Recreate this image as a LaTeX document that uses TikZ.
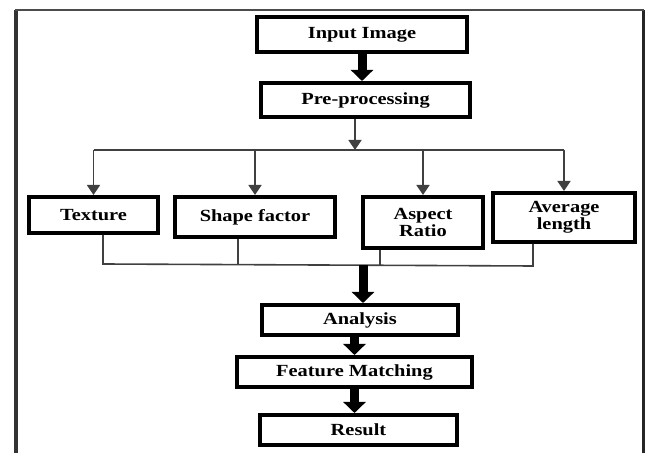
\documentclass[tikz,border=0pt]{standalone}
\usepackage{fontspec}
\setmainfont{Liberation Serif}[FakeStretch=1.2]
\usetikzlibrary{arrows.meta}

\begin{document}
\begin{tikzpicture}[x=0.5pt,y=-0.5pt,
	stage/.style={draw,line width=2pt,inner sep=0pt,align=center,font=\bfseries\fontsize{8.5}{8.5}\selectfont},
	wire/.style={line width=0.8pt,black!75},
	thin arrow/.style={wire,-{Triangle[width=6.5pt,length=5pt]}},
	fat arrow/.style={line width=4.5pt,-{Triangle[width=11pt,length=5.5pt]}}]
		\useasboundingbox(0,0) rectangle (647,453);
		
		% frame
		\draw[line width=1.8pt][black!80](16,470)--(16,10);
		\draw[line width=1.5pt][black!85](643,470)--(643,10);
		\draw[line width=1pt][black!70](15,10)--(644,10);
		
		\node[stage,minimum width=105pt,minimum height=17.5pt] (input) at (362,34.5) {Input Image};
		\node[stage,minimum width=104.5pt,minimum height=17pt] (pre) at (365.5,100) {Pre-processing};
		
		\node[stage,minimum width=64.5pt,minimum height=18pt] (texture) at (93.5,215) {Texture};
		\node[stage,minimum width=80pt,minimum height=20pt] (shape) at (255,217) {Shape factor};
		\node[stage,minimum width=60pt,minimum height=25.5pt] (aspect) at (423,222.5) {Aspect\\Ratio};
		\node[stage,minimum width=71pt,minimum height=24.5pt] (avg) at (564,217.5) {Average\\length};
		
		\node[stage,minimum width=98pt,minimum height=15pt] (analysis) at (360,320) {Analysis};
		\node[stage,minimum width=117.5pt,minimum height=15pt] (feature) at (354.5,372) {Feature Matching};
		\node[stage,minimum width=98.5pt,minimum height=15pt] (result) at (358.5,430) {Result};
		
		\coordinate (split) at (355,150);
		\coordinate (join) at (363,265);
		\coordinate (jt) at (103,264);
		\coordinate (js) at (238,264.5);
		\coordinate (ja) at (380,265.5);
		\coordinate (jv) at (533,266);
		
		\draw[fat arrow](input.south)--(input.south |- pre.north);
		\draw[thin arrow](pre.south -| split)--(split);
		\draw[wire](texture.north |- split)--(avg.north |- split);
		\foreach \n in {texture,shape,aspect,avg}
			\draw[thin arrow](\n.north |- split)--(\n.north);
		
		\draw[wire](texture.south -| jt)--(jt)--(jv)--(avg.south -| jv);
		\draw[wire](shape.south -| js)--(js);
		\draw[wire](aspect.south -| ja)--(ja);
		
		\draw[fat arrow](join)--(join |- analysis.north);
		\draw[fat arrow](analysis.south -| feature)--(feature.north);
		\draw[fat arrow](feature.south)--(feature.south |- result.north);
\end{tikzpicture}
\end{document}
